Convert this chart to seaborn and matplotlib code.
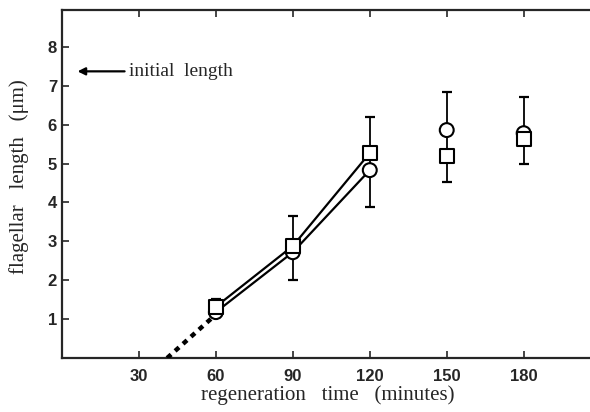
import numpy as np
import pandas as pd
import matplotlib
matplotlib.use('Agg')
import matplotlib.pyplot as plt
import seaborn as sns

# regeneration time (minutes)
times = [60, 90, 120, 150, 180]
circle_len = [1.18, 2.72, 4.83, 5.86, 5.78]
square_len = [1.32, 2.88, 5.27, 5.20, 5.63]
# error bar extents per time point
err_low = [1.05, 2.00, 3.89, 4.53, 4.99]
err_high = [1.53, 3.66, 6.19, 6.85, 6.72]
# extrapolation back to zero length
extrap_t = [41, 60]
extrap_len = [0.0, 1.12]
initial_length = 7.37

sns.set_style('ticks')
plt.rcParams['font.family'] = ['Liberation Sans', 'DejaVu Sans']
serif = ['Liberation Serif', 'DejaVu Serif']

fig = plt.figure(figsize=(5.9, 4.12), dpi=100)
ax = fig.add_axes([0.105, 0.131, 0.9, 0.845])

df = pd.DataFrame({
    'time': times * 2,
    'length': circle_len + square_len,
    'kind': ['circle'] * 5 + ['square'] * 5,
})

# error bars
mid = [(a + b) / 2 for a, b in zip(err_low, err_high)]
ax.errorbar(times, mid,
            yerr=[np.subtract(mid, err_low), np.subtract(err_high, mid)],
            fmt='none', ecolor='black', elinewidth=1.3, capsize=3.5, capthick=1.6, zorder=2)

# fitted regeneration lines (60-120 min)
fit = df[df['time'] <= 120]
sns.lineplot(data=fit, x='time', y='length', hue='kind', palette=['black', 'black'],
             linewidth=1.6, legend=False, ax=ax, zorder=3)
ax.plot(extrap_t, extrap_len, color='black', linestyle=(0, (1.2, 1.2)), linewidth=3.2, zorder=3)

sns.scatterplot(data=df, x='time', y='length', style='kind', markers={'circle': 'o', 'square': 's'},
                s=100, facecolor='white', edgecolor='black', linewidth=1.5,
                legend=False, ax=ax, zorder=4)

ax.annotate('', xy=(5, initial_length), xytext=(25.5, initial_length),
            arrowprops=dict(arrowstyle='-|>', color='black', lw=1.6, mutation_scale=11))
ax.text(26, initial_length, 'initial  length', family=serif,
        fontsize=14, va='center', ha='left')

ax.set_xlim(0, 207)
ax.set_ylim(0, 8.95)
ax.set_xticks([30, 60, 90, 120, 150, 180])
ax.set_yticks([1, 2, 3, 4, 5, 6, 7, 8])
ax.tick_params(direction='in', length=5, width=1.2, labelsize=12, top=True, right=False)
ax.tick_params(axis='x', pad=8)
for lab in ax.get_xticklabels() + ax.get_yticklabels():
    lab.set_fontweight('bold')
ax.set_xlabel('regeneration   time   (minutes)', family=serif, fontsize=15, labelpad=1)
ax.set_ylabel('flagellar   length   (μm)', family=serif, fontsize=15)
ax.yaxis.set_label_coords(-0.062, 0.52)
for side in ['left', 'bottom', 'top']:
    ax.spines[side].set_linewidth(1.6)
ax.spines['right'].set_visible(False)

fig.savefig('out.png', dpi=100)
